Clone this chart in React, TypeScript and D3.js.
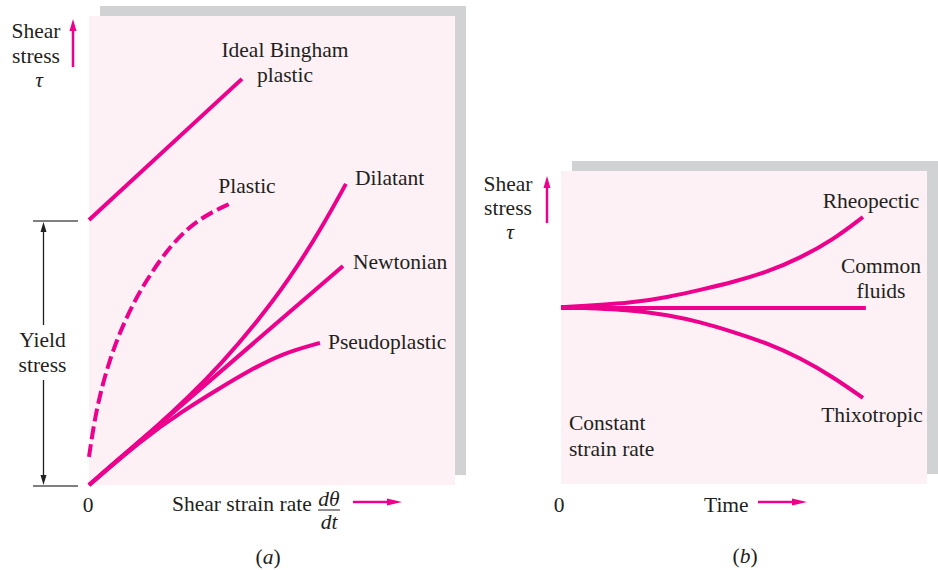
import React from "react";
import * as d3 from "d3";

// ---------- DATA (abstract units) ----------
// Panel (a): shear stress vs shear strain rate
const yieldStress = 5.63;
const binghamCurve: [number, number][] = [[0, 5.65], [4.18, 8.66]];
const plasticCurve: [number, number][] = [
  [0, 0.6], [0.19, 1.6], [0.55, 2.67], [1.01, 3.58], [1.56, 4.37],
  [2.27, 5.16], [3.01, 5.69], [3.88, 6.01],
];
const dilatantCurve: [number, number][] = [
  [0, 0], [0.9, 0.62], [1.83, 1.23], [2.73, 1.88], [3.63, 2.6],
  [4.56, 3.45], [5.46, 4.37], [6.37, 5.5], [7.02, 6.42],
];
const newtonianCurve: [number, number][] = [[0, 0], [6.94, 4.67]];
const pseudoplasticCurve: [number, number][] = [
  [0, 0], [1.5, 1.0], [2.57, 1.58], [3.5, 2.03],
  [4.4, 2.45], [5.3, 2.81], [6.31, 3.03],
];
// Panel (b): shear stress vs time at constant strain rate
const commonCurve: [number, number][] = [[0, 5.62], [8.33, 5.62]];
const rheopecticCurve: [number, number][] = [
  [0, 5.65], [1.97, 5.78], [2.9, 5.97], [3.8, 6.2], [4.7, 6.45],
  [5.63, 6.77], [6.53, 7.22], [7.43, 7.8], [8.25, 8.53],
];
const thixotropicCurve: [number, number][] = [
  [0, 5.65], [1.97, 5.56], [2.9, 5.4], [3.8, 5.18], [4.7, 4.86],
  [5.63, 4.5], [6.53, 4.03], [7.43, 3.42], [8.25, 2.75],
];

const MAG = "#ec008c";
const TXT = "#231f20";
const PINK = "#fdf1f5";
const GRAY = "#d1d2d4";
const FONT = "'Liberation Serif', 'Times New Roman', serif";
const FS = 21.5;

// scales
const xA = d3.scaleLinear().domain([0, 10]).range([89, 455]);
const yA = d3.scaleLinear().domain([0, 10]).range([485, 16]);
const xB = d3.scaleLinear().domain([0, 10]).range([561, 927]);
const yB = d3.scaleLinear().domain([0, 10]).range([484, 171]);

const lineA = d3.line<[number, number]>().x(d => xA(d[0])).y(d => yA(d[1])).curve(d3.curveBasis);
const lineB = d3.line<[number, number]>().x(d => xB(d[0])).y(d => yB(d[1])).curve(d3.curveBasis);

function Arrow({ x1, y1, x2, y2, color, width, head }: any) {
  const ang = Math.atan2(y2 - y1, x2 - x1);
  const hl = head[0], hw = head[1];
  const bx = x2 - hl * Math.cos(ang), by = y2 - hl * Math.sin(ang);
  const px = -Math.sin(ang) * hw / 2, py = Math.cos(ang) * hw / 2;
  return (
    <g>
      <line x1={x1} y1={y1} x2={bx} y2={by} stroke={color} strokeWidth={width} />
      <path d={`M${x2},${y2}L${bx + px},${by + py}L${bx - px},${by - py}Z`} fill={color} />
    </g>
  );
}

const T = ({ x, y, children, anchor = "start", italic = false, size = FS }: any) => (
  <text x={x} y={y} textAnchor={anchor} fontFamily={FONT} fontSize={size}
    fontStyle={italic ? "italic" : "normal"} fill={TXT}>{children}</text>
);

export default function App() {
  return (
    <svg width={938} height={570} style={{ position: "absolute", left: 0, top: 0 }}>
      <rect width={938} height={570} fill="#fff" />
      {/* Panel a backgrounds */}
      <rect x={100} y={6} width={366} height={469} fill={GRAY} />
      <rect x={89} y={16} width={366} height={469} fill={PINK} />
      {/* Panel b backgrounds */}
      <rect x={572} y={161} width={366} height={313} fill={GRAY} />
      <rect x={561} y={171} width={366} height={313} fill={PINK} />

      {/* Panel a curves */}
      <g fill="none" stroke={MAG} strokeWidth={4}>
        <path d={lineA(binghamCurve)!} />
        <path d={lineA(plasticCurve)!} strokeDasharray="13 5" />
        <path d={lineA(dilatantCurve)!} />
        <path d={lineA(newtonianCurve)!} />
        <path d={lineA(pseudoplasticCurve)!} />
      </g>

      {/* Yield stress indicator */}
      <line x1={33} x2={78} y1={yA(yieldStress)} y2={yA(yieldStress)} stroke="#555" strokeWidth={1.5} />
      <line x1={33} x2={78} y1={yA(0) + 1} y2={yA(0) + 1} stroke="#555" strokeWidth={1.5} />
      <Arrow x1={43.5} y1={325} x2={43.5} y2={yA(yieldStress) + 1} color={TXT} width={1.3} head={[10, 6]} />
      <Arrow x1={43.5} y1={380} x2={43.5} y2={yA(0)} color={TXT} width={1.3} head={[10, 6]} />
      <T x={42.5} y={347} anchor="middle">Yield</T>
      <T x={42.5} y={372} anchor="middle">stress</T>

      {/* Panel a axis labels */}
      <T x={36} y={38} anchor="middle">Shear</T>
      <T x={36} y={63} anchor="middle">stress</T>
      <T x={39} y={87} anchor="middle" italic>τ</T>
      <Arrow x1={73} y1={67} x2={73} y2={19} color={MAG} width={2.5} head={[12, 7]} />

      <T x={88} y={512} anchor="middle">0</T>
      <T x={172} y={511}>Shear strain rate</T>
      <T x={329} y={506} anchor="middle" italic>dθ</T>
      <line x1={318} x2={340} y1={510} y2={510} stroke={TXT} strokeWidth={1} />
      <T x={329} y={529} anchor="middle" italic>dt</T>
      <Arrow x1={353} y1={502} x2={402} y2={502} color={MAG} width={2.5} head={[15, 7]} />
      <T x={268} y={564} anchor="middle">(<tspan fontStyle="italic">a</tspan>)</T>

      {/* Panel a curve labels */}
      <T x={285} y={57} anchor="middle">Ideal Bingham</T>
      <T x={285} y={82} anchor="middle">plastic</T>
      <T x={247} y={193} anchor="middle">Plastic</T>
      <T x={355} y={185}>Dilatant</T>
      <T x={353} y={269}>Newtonian</T>
      <T x={328} y={349}>Pseudoplastic</T>

      {/* Panel b curves */}
      <g fill="none" stroke={MAG} strokeWidth={4}>
        <path d={lineB(commonCurve)!} />
        <path d={lineB(rheopecticCurve)!} />
        <path d={lineB(thixotropicCurve)!} />
      </g>

      {/* Panel b labels */}
      <T x={508} y={191} anchor="middle">Shear</T>
      <T x={508} y={215} anchor="middle">stress</T>
      <T x={510} y={239} anchor="middle" italic>τ</T>
      <Arrow x1={547} y1={223} x2={547} y2={176} color={MAG} width={2.5} head={[12, 7]} />

      <T x={871} y={208} anchor="middle">Rheopectic</T>
      <T x={881} y={273} anchor="middle">Common</T>
      <T x={881} y={298} anchor="middle">fluids</T>
      <T x={872} y={422} anchor="middle">Thixotropic</T>
      <T x={569} y={430}>Constant</T>
      <T x={569} y={456}>strain rate</T>

      <T x={559} y={512} anchor="middle">0</T>
      <T x={704} y={512}>Time</T>
      <Arrow x1={758} y1={502} x2={807} y2={502} color={MAG} width={2.5} head={[15, 7]} />
      <T x={745} y={563} anchor="middle">(<tspan fontStyle="italic">b</tspan>)</T>
    </svg>
  );
}
